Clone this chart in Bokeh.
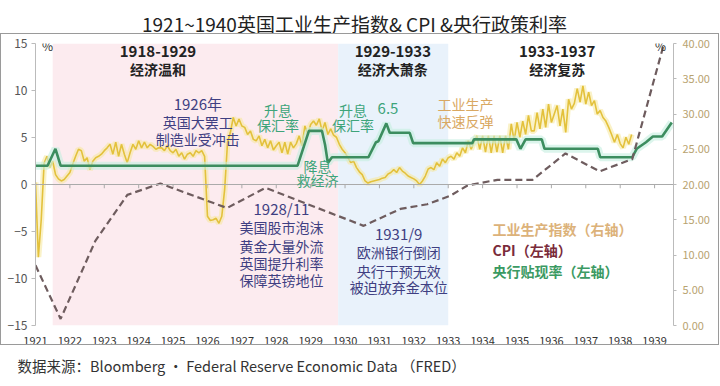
from bokeh.plotting import figure
from bokeh.models import (Range1d, LinearAxis, FixedTicker, BoxAnnotation, Label, Title,
                          Span, NumeralTickFormatter, ColumnDataSource, InlineStyleSheet)
from bokeh.embed import file_html
from bokeh.resources import INLINE

FONT = "Noto Sans CJK SC"

# ---------------- data ----------------
years = list(range(1921, 1940))
left_ticks = [-15, -10, -5, 0, 5, 10, 15]
right_ticks = [0, 5, 10, 15, 20, 25, 30, 35, 40]

# industrial production index (right axis), monthly from Jan 1921
ip_values = [
    20.3, 9.7, 15.0, 23.0, 24.0, 22.4, 23.3, 21.4, 20.8, 20.5, 20.7, 21.2,
    21.7, 22.9, 24.0, 25.0, 24.8, 23.3, 23.8, 22.1, 23.3, 23.8, 24.0, 24.3,
    24.8, 25.2, 25.7, 24.3, 26.0, 24.0, 25.7, 24.3, 23.1, 24.5, 25.7, 25.0,
    26.2, 25.2, 26.0, 25.2, 25.7, 25.4, 25.0, 25.2, 25.2, 24.8, 25.5, 24.8,
    24.5, 25.0, 24.0, 24.5, 23.6, 24.3, 24.5, 24.0, 24.8, 24.5, 24.8, 24.0,
    15.5, 14.9, 15.0, 15.2, 14.5, 15.5, 19.3, 26.0, 27.4, 29.5, 28.3, 29.3,
    28.3, 28.1, 27.1, 27.6, 26.4, 26.2, 26.9, 25.5, 26.4, 25.2, 26.2, 24.9,
    25.5, 26.0, 24.5, 26.0, 24.3, 26.0, 25.2, 25.8, 26.9, 25.5, 28.3, 27.1,
    28.5, 29.0, 28.4, 29.3, 27.6, 28.8, 27.1, 27.9, 27.0, 26.7, 25.7, 25.0,
    24.5, 23.8, 23.1, 23.3, 22.4, 21.8, 21.4, 20.5, 20.2, 20.4, 20.5, 20.6,
    20.7, 20.9, 21.0, 21.5, 21.7, 22.1, 21.7, 22.4, 21.9, 21.6, 21.2, 21.0,
    20.8, 20.5, 20.0, 20.5, 21.2, 22.2, 22.4, 22.1, 23.1, 22.6, 23.6, 23.1,
    23.8, 24.0, 23.6, 24.5, 24.0, 25.2, 24.5, 26.2, 25.0, 26.0, 26.9, 25.0,
    26.9, 24.6, 26.9, 24.5, 26.9, 24.6, 26.9, 24.5, 26.9, 25.0, 28.6, 26.2,
    28.8, 26.7, 29.0, 27.1, 29.8, 27.6, 27.6, 30.2, 27.9, 30.7, 28.1, 31.4,
    28.8, 30.0, 31.2, 28.3, 30.7, 27.4, 32.1, 30.7, 31.5, 33.6, 31.7, 34.0,
    31.4, 33.1, 31.2, 31.9, 30.0, 30.5, 29.5, 29.0, 28.1, 27.1, 26.0, 27.1,
    25.8, 25.2, 26.7, 25.7, 27.1,
]
ip_year = [1921 + i / 12 for i in range(len(ip_values))]

# CPI (left axis)
cpi_year = [1921.0, 1921.73, 1922.74, 1923.67, 1924.63, 1926.57, 1927.69, 1930.54,
            1931.61, 1932.39, 1933.06, 1933.56, 1934.43, 1935.45, 1936.41, 1937.40,
            1938.35, 1939.26]
cpi_value = [-8.6, -14.3, -6.0, -1.1, 0.1, -2.5, -0.35, -4.4,
             -2.6, -2.1, -1.2, -0.1, 0.5, 0.5, 3.3, 1.4,
             2.7, 14.8]

# central bank discount rate (left axis)
rate_year = [1921.0, 1921.35, 1921.58, 1921.73, 1928.62, 1928.95, 1929.33, 1929.42,
             1929.5, 1929.62, 1930.68, 1930.9, 1930.97, 1931.2, 1931.3, 1931.88,
             1931.98, 1933.7, 1933.75, 1934.98, 1935.1, 1935.25, 1935.72, 1935.8,
             1937.35, 1937.42, 1938.35, 1938.48, 1938.75, 1938.95, 1939.22, 1939.5]
rate_value = [2.0, 2.0, 3.8, 2.0, 2.0, 5.7, 5.7, 4.2,
              2.3, 2.9, 2.9, 4.5, 4.6, 6.5, 5.5, 5.5,
              4.4, 4.4, 4.8, 4.8, 3.8, 4.8, 4.8, 3.8,
              3.8, 2.9, 2.9, 3.8, 4.5, 5.1, 5.1, 6.6]

title_text = "1921~1940英国工业生产指数& CPI &央行政策利率"
source_text = "数据来源：Bloomberg · Federal Reserve Economic Data （FRED）"

# ---------------- figure ----------------
# thin grey frame around the chart body (pure decoration, drawn with CSS)
frame_css = InlineStyleSheet(css="""
:host::after {
  content: ""; position: absolute; z-index: 1000; pointer-events: none;
  left: 0px; top: 33px; width: 719px; height: 312px;
  border: 1.5px solid #9a9a9a; box-sizing: border-box;
}
""")

p = figure(width=720, height=386, x_range=Range1d(1921, 1939.55), y_range=Range1d(-15, 15),
           output_backend="svg", toolbar_location=None,
           min_border_left=35, min_border_right=47, min_border_top=43, min_border_bottom=61,
           stylesheets=[frame_css])
p.extra_y_ranges = {"ip": Range1d(0, 40)}
p.outline_line_color = None
p.xgrid.grid_line_color = None
p.ygrid.grid_line_color = None
p.background_fill_color = "white"
p.border_fill_color = "white"

# title & source
p.title.text = title_text
p.title.align = "center"
p.title.text_font = FONT
p.title.text_font_size = "19px"
p.title.text_font_style = "normal"
p.title.text_color = "#222222"
p.title.standoff = 14
p.add_layout(Title(text=source_text, align="left", offset=-18, text_font=FONT,
                   text_font_size="14.5px", text_font_style="normal",
                   text_color="#333333", standoff=10), "below")

# period shading
p.add_layout(BoxAnnotation(left=1921.5, right=1929.8, fill_color="#fcebef", fill_alpha=1,
                           line_color=None, level="underlay"))
p.add_layout(BoxAnnotation(left=1929.8, right=1933.0, fill_color="#e9f2fb", fill_alpha=1,
                           line_color=None, level="underlay"))

# x axis
xa = p.xaxis[0]
xa.ticker = FixedTicker(ticks=years)
xa.axis_line_color = None
xa.major_tick_line_color = None
xa.minor_tick_line_color = None
xa.major_label_standoff = 5
xa.major_label_text_font = FONT
xa.major_label_text_font_size = "11px"
xa.major_label_text_color = "#333333"

# left axis
ya = p.yaxis[0]
ya.ticker = FixedTicker(ticks=left_ticks)
ya.axis_line_color = "#bbbbbb"
ya.major_tick_line_color = "#bbbbbb"
ya.major_tick_out = 4
ya.major_tick_in = 0
ya.minor_tick_line_color = None
ya.major_label_standoff = 4
ya.major_label_text_font = FONT
ya.major_label_text_font_size = "12px"
ya.major_label_text_color = "#555555"

# right axis
ra = LinearAxis(y_range_name="ip", ticker=FixedTicker(ticks=right_ticks),
                formatter=NumeralTickFormatter(format="0.00"))
ra.axis_line_color = "#bbbbbb"
ra.major_tick_line_color = "#bbbbbb"
ra.major_tick_out = 3
ra.major_tick_in = 0
ra.minor_tick_line_color = None
ra.major_label_standoff = 6
ra.major_label_text_font = FONT
ra.major_label_text_font_size = "11px"
ra.major_label_text_color = "#b8a370"
p.add_layout(ra, "right")

# zero line with year ticks
p.add_layout(Span(location=0, dimension="width", line_color="#aaaaaa", line_width=1))
p.segment(x0=years, y0=[0] * len(years), x1=years, y1=[-0.4] * len(years),
          line_color="#aaaaaa", line_width=1)

# series
ip_src = ColumnDataSource(dict(x=ip_year, y=ip_values))
p.line("x", "y", source=ip_src, y_range_name="ip", line_color="#f5e79a", line_width=6, line_alpha=0.55)
p.line("x", "y", source=ip_src, y_range_name="ip", line_color="#e3c13c", line_width=1.6)

rate_src = ColumnDataSource(dict(x=rate_year, y=rate_value))
p.line("x", "y", source=rate_src, line_color="#c4efdf", line_width=8, line_alpha=0.6)
p.line("x", "y", source=rate_src, line_color="#3c8d5f", line_width=2.6)

cpi_src = ColumnDataSource(dict(x=cpi_year, y=cpi_value))
p.line("x", "y", source=cpi_src, line_color="#6e5c5e", line_width=2.2, line_dash="7 4")

# ---------------- annotations ----------------
def lab(x, y, text, color, size="14px", bold=False, align="center"):
    p.add_layout(Label(x=x, y=y, text=text, text_font=FONT, text_font_size=size,
                       text_color=color, text_align=align, text_baseline="middle",
                       text_font_style="bold" if bold else "normal"))

lab(1921.35, 14.75, "%", "#333333", size="12px")
lab(1939.17, 14.75, "%", "#333333", size="12px")

for xc, t1, t2 in [(1924.56, "1918-1929", "经济温和"), (1931.39, "1929-1933", "经济大萧条"),
                   (1936.17, "1933-1937", "经济复苏")]:
    lab(xc, 14.1, t1, "#222222", size="15px", bold=True)
    lab(xc, 12.3, t2, "#222222", size="14px", bold=True)

navy = "#3f3f82"
lab(1925.72, 8.6, "1926年", navy, size="15px")
lab(1925.72, 6.6, "英国大罢工", navy)
lab(1925.72, 4.8, "制造业受冲击", navy)

green_t = "#3da47a"
lab(1928.05, 7.9, "升息", green_t)
lab(1928.05, 6.3, "保汇率", green_t)
lab(1930.23, 7.9, "升息", green_t)
lab(1930.23, 6.3, "保汇率", green_t)
lab(1931.25, 8.05, "6.5", green_t, size="15px")
lab(1929.2, 2.0, "降息", green_t)
lab(1929.2, 0.45, "救经济", green_t)

tan = "#d9a862"
lab(1933.5, 8.6, "工业生产", tan)
lab(1933.5, 6.8, "快速反弹", tan)

lab(1928.15, -2.6, "1928/11", navy, size="15px")
lab(1928.15, -4.55, "美国股市泡沫", navy)
lab(1928.15, -6.5, "黄金大量外流", navy)
lab(1928.15, -8.3, "英国提升利率", navy)
lab(1928.15, -10.2, "保障英镑地位", navy)

lab(1931.56, -5.25, "1931/9", navy, size="15px")
lab(1931.56, -7.2, "欧洲银行倒闭", navy)
lab(1931.56, -9.15, "央行干预无效", navy)
lab(1931.56, -10.95, "被迫放弃金本位", navy)

lab(1934.29, -4.7, "工业生产指数（右轴）", "#dcb27a", bold=True, align="left")
lab(1934.29, -7.0, "CPI（左轴）", "#7a2b3a", bold=True, align="left")
lab(1934.29, -9.15, "央行贴现率（左轴）", "#3b9a63", bold=True, align="left")

open("out.html", "w").write(file_html(p, INLINE))
